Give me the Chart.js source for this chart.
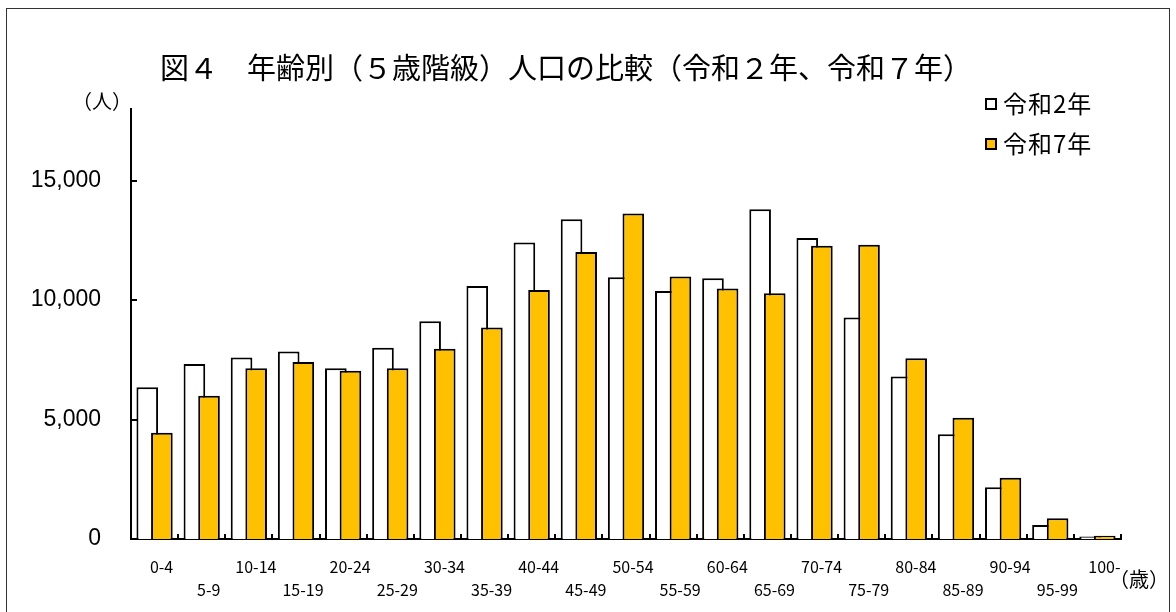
<!DOCTYPE html>
<html>
<head>
    <meta charset="utf-8">
    <title>図4 年齢別人口の比較</title>
    <style>
        body { margin: 0; overflow: hidden; background: #fff; font-family: "Noto Sans CJK JP", sans-serif; color: #000; }
        #frame { position: absolute; left: 6px; top: 8px; width: 1164px; height: 640px; border: 1px solid #333; box-sizing: border-box; }
        #chart { position: absolute; left: 0; top: 0; }
        .txt { position: absolute; white-space: nowrap; }
        #title { left: 160px; top: 48px; font-size: 29px; line-height: 36px; }
        #yunit { left: 72px; top: 88px; font-size: 20px; line-height: 26px; }
        #xunit { left: 1109px; top: 566px; font-size: 20px; line-height: 26px; }
        .leg { position: absolute; left: 985px; font-size: 24px; line-height: 28px; letter-spacing: 1px; white-space: nowrap; }
        .leg span { display: inline-block; width: 8px; height: 8px; border: 2px solid #000; margin-right: 6px; vertical-align: 3px; }
    </style>
</head>
<body>
    <div id="frame">
        <canvas id="chart" width="1162" height="620"></canvas>
    </div>
    <div class="txt" id="title">図４　年齢別（５歳階級）人口の比較（令和２年、令和７年）</div>
    <div class="txt" id="yunit">（人）</div>
    <div class="txt" id="xunit">（歳）</div>
    <div class="leg" style="top: 89px;"><span style="background: #fff;"></span>令和2年</div>
    <div class="leg" style="top: 129px;"><span style="background: #FFC000;"></span>令和7年</div>

    <script src="https://cdn.jsdelivr.net/npm/chart.js@4/dist/chart.umd.min.js"></script>
    <script>
        // 年齢階級
        const ageGroups = ['0-4', '5-9', '10-14', '15-19', '20-24', '25-29', '30-34', '35-39', '40-44', '45-49',
            '50-54', '55-59', '60-64', '65-69', '70-74', '75-79', '80-84', '85-89', '90-94', '95-99', '100-'];

        // 人口（人）
        const popR2 = [6350, 7330, 7600, 7850, 7150, 8010, 9120, 10590, 12410, 13390,
            10960, 10380, 10920, 13800, 12600, 9270, 6800, 4390, 2170, 590, 100];
        const popR7 = [4450, 6000, 7150, 7410, 7040, 7150, 7960, 8850, 10420, 12010,
            13630, 10990, 10490, 10290, 12280, 12320, 7570, 5080, 2560, 870, 140];

        const yTicks = [0, 5000, 10000, 15000];
        const yMax = 18000;

        // 令和7年の棒を令和2年の棒の上に重ねて描く（Excel風）
        const drawInOrder = {
            id: 'drawInOrder',
            beforeDatasetsDraw(chart) {
                const ctx = chart.ctx;
                const area = chart.chartArea;
                chart.data.datasets.forEach((ds, i) => {
                    const meta = chart.getDatasetMeta(i);
                    ctx.save();
                    ctx.beginPath();
                    ctx.rect(area.left, area.top - 2, area.width, area.height + 2);
                    ctx.clip();
                    meta.controller.draw();
                    ctx.restore();
                });
                return false;
            },
            // 内向きの目盛り線
            afterDraw(chart) {
                const { ctx, chartArea, scales: { y } } = chart;
                ctx.save();
                ctx.strokeStyle = '#000';
                ctx.lineWidth = 2;
                ctx.beginPath();
                yTicks.forEach(v => {
                    const py = Math.round(y.getPixelForValue(v));
                    ctx.moveTo(chartArea.left, py);
                    ctx.lineTo(chartArea.left + 6, py);
                });
                const step = chartArea.width / ageGroups.length;
                for (let i = 1; i <= ageGroups.length; i++) {
                    const px = Math.round(chartArea.left + i * step);
                    ctx.moveTo(px, chartArea.bottom);
                    ctx.lineTo(px, chartArea.bottom - 5);
                }
                ctx.stroke();
                ctx.restore();
            }
        };

        const ctx = document.getElementById('chart').getContext('2d');
        new Chart(ctx, {
            type: 'bar',
            data: {
                labels: ageGroups,
                datasets: [
                    { label: '令和2年', data: popR2, backgroundColor: '#ffffff', borderColor: '#000', borderWidth: 2 },
                    { label: '令和7年', data: popR7, backgroundColor: '#FFC000', borderColor: '#000', borderWidth: 2 }
                ]
            },
            options: {
                responsive: false,
                animation: false,
                categoryPercentage: 0.62,
                barPercentage: 1.48,
                layout: { padding: { top: 100, right: 48, bottom: 0, left: 0 } },
                plugins: {
                    legend: { display: false },
                    title: { display: false },
                    tooltip: { enabled: false }
                },
                scales: {
                    x: {
                        grid: { display: false, drawTicks: false },
                        border: { display: true, color: '#000', width: 2 },
                        ticks: {
                            autoSkip: false,
                            maxRotation: 0,
                            padding: 16,
                            labelOffset: 7,
                            color: '#000',
                            font: { family: '"Noto Sans CJK JP"', size: 16, lineHeight: 1.45 },
                            callback: (v, i) => i % 2 === 0 ? [ageGroups[i]] : ['', ageGroups[i]]
                        },
                        afterFit: s => { s.height = 90; }
                    },
                    y: {
                        min: 0,
                        max: yMax,
                        grid: { display: false, drawTicks: false },
                        border: { display: true, color: '#000', width: 2 },
                        afterBuildTicks: s => { s.ticks = yTicks.map(v => ({ value: v })); },
                        ticks: {
                            padding: 30,
                            color: '#000',
                            font: { family: '"Liberation Sans"', size: 23 },
                            callback: v => v.toLocaleString('en-US')
                        },
                        afterFit: s => { s.width = 124; }
                    }
                }
            },
            plugins: [drawInOrder]
        });
    </script>
</body>
</html>
